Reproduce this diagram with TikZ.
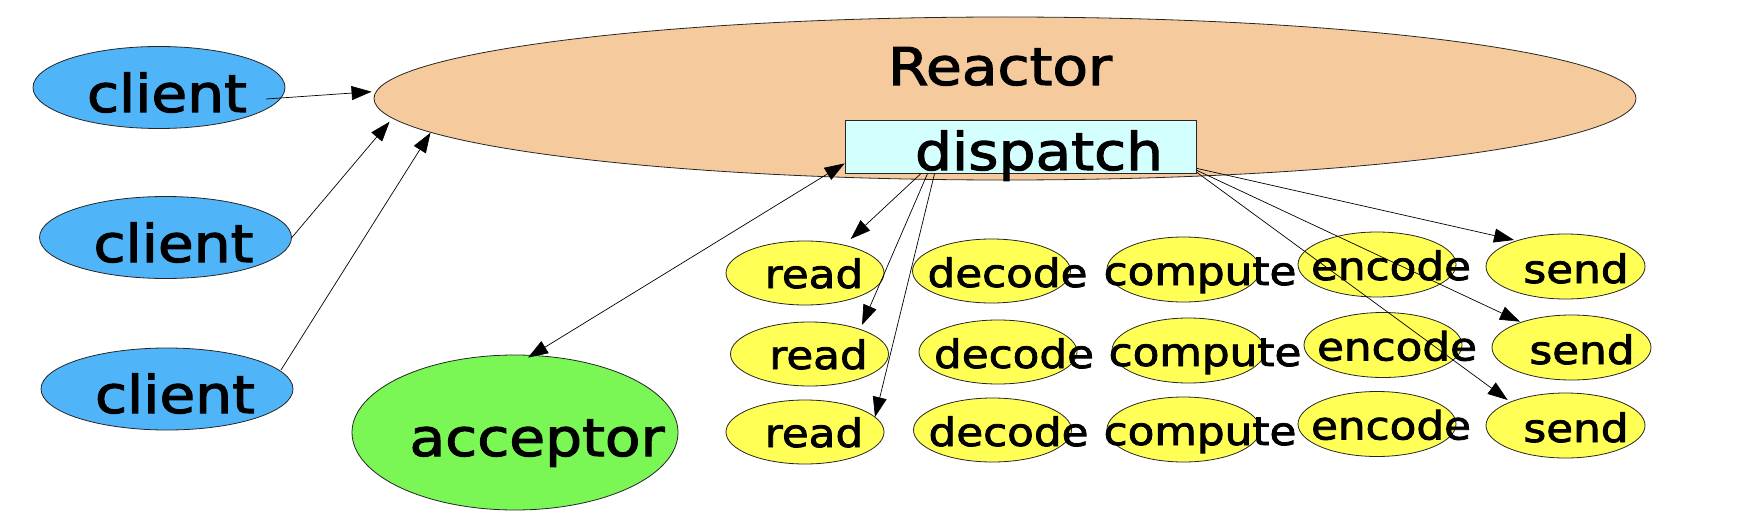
\documentclass[tikz,border=0pt]{standalone}
\usepackage{fontspec}
\setmainfont{DejaVu Sans}[FakeBold=2]
\usepackage{graphicx}
\usetikzlibrary{shapes.geometric,arrows.meta,calc}
\definecolor{clientblue}{HTML}{50B4F9}
\definecolor{reactorc}{HTML}{F5CB9D}
\definecolor{dispatchc}{HTML}{D4FFFF}
\definecolor{accgreen}{HTML}{7AF755}
\definecolor{yel}{HTML}{FFFF55}
\newcommand{\wtx}[1]{\scalebox{1.12}[1]{#1}}
\tikzset{
  ell/.style={ellipse, draw=black!85, line width=0.8pt, inner sep=0pt},
  clientell/.style={ell, fill=clientblue, minimum width=252pt, minimum height=82pt},
  smallell/.style={ell, fill=yel, minimum width=158pt, minimum height=64pt},
  bigtxt/.style={anchor=base, inner sep=0pt, font=\fontsize{52}{60}\selectfont},
  smalltxt/.style={anchor=base, inner sep=0pt, font=\fontsize{39}{45}\selectfont},
  conn/.style={draw=black, line width=0.7pt, -{Triangle[length=20pt,width=14pt]}},
  conn2/.style={draw=black, line width=0.7pt, {Triangle[length=20pt,width=14pt]}-{Triangle[length=20pt,width=14pt]}},
}
\begin{document}
\begin{tikzpicture}[x=1pt,y=-1pt]
\useasboundingbox (0,0) rectangle (1764,524);
% shapes
\node[clientell] (client1) at (159,87.5) {};
\node[clientell] (client2) at (165.5,237.5) {};
\node[clientell] (client3) at (167,389) {};
\node[ell, fill=reactorc, minimum width=1262pt, minimum height=163pt] (reactor) at (1005,98.5) {};
\node[draw=black!85, line width=0.8pt, fill=dispatchc, inner sep=0pt, minimum width=351pt, minimum height=53pt] (dispatch) at (1020.5,146.5) {};
\node[ell, fill=accgreen, minimum width=326pt, minimum height=155pt] (acceptor) at (515,432.5) {};
\node[smallell] (read1) at (805,273) {};
\node[smallell] (read2) at (809.5,354) {};
\node[smallell] (read3) at (805,432) {};
\node[smallell] (decode1) at (991.5,271) {};
\node[smallell] (decode2) at (998,352) {};
\node[smallell] (decode3) at (992.5,430) {};
\node[smallell, minimum width=153pt, minimum height=65pt] (compute1) at (1183.5,269.5) {};
\node[smallell, minimum width=153pt, minimum height=65pt] (compute2) at (1188.5,350.5) {};
\node[smallell, minimum width=153pt, minimum height=65pt] (compute3) at (1183.5,429.5) {};
\node[smallell, minimum height=65pt] (encode1) at (1377,264.5) {};
\node[smallell, minimum height=65pt] (encode2) at (1383,345) {};
\node[smallell, minimum height=65pt] (encode3) at (1377,424) {};
\node[smallell, minimum width=159pt, minimum height=65pt] (send1) at (1565.5,266.5) {};
\node[smallell, minimum width=159pt, minimum height=65pt] (send2) at (1571.5,347.5) {};
\node[smallell, minimum width=159pt, minimum height=65pt] (send3) at (1565.5,425.5) {};
% texts
\node[bigtxt] (t-client1) at ($(client1)+(8,24.5)$) {\wtx{client}};
\node[bigtxt] (t-client2) at ($(client2)+(8,24.5)$) {\wtx{client}};
\node[bigtxt] (t-client3) at ($(client3)+(8,24)$) {\wtx{client}};
\node[bigtxt] (t-reactor) at (1000,85) {\wtx{Reactor}};
\node[bigtxt] (t-dispatch) at ($(dispatch)+(18.5,23.5)$) {\wtx{dispatch}};
\node[bigtxt] (t-acceptor) at ($(acceptor)+(22,23.5)$) {\wtx{acceptor}};
\foreach \n in {read1,read2,read3}{
  \node[smalltxt] (t-\n) at ($(\n)+(9,15)$) {\wtx{read}};}
\foreach \n in {decode1,decode2,decode3}{
  \node[smalltxt] (t-\n) at ($(\n)+(16,16)$) {\wtx{decode}};}
\foreach \n in {compute1,compute2,compute3}{
  \node[smalltxt] (t-\n) at ($(\n)+(16.5,15.5)$) {\wtx{compute}};}
\foreach \n in {encode1,encode2,encode3}{
  \node[smalltxt] (t-\n) at ($(\n)+(14,15.5)$) {\wtx{encode}};}
\foreach \n in {send1,send2,send3}{
  \node[smalltxt] (t-\n) at ($(\n)+(10.5,16.5)$) {\wtx{send}};}
% connectors
\draw[conn] ($(client1.center)+(107,11.5)$) -- ($(reactor.west)+(-2,-6.8)$);
\draw[conn] (client2.east) -- ($(reactor.center)+(-615.4,23.2)$);
\draw[conn] ($(client3.center)+(114,-19)$) -- ($(reactor.center)+(-574.5,34.2)$);
\draw[conn2] ($(acceptor.north)+(13,3)$) -- ($(dispatch.south west)+(0,-10)$);
\draw[conn] ($(dispatch.south west)+(76.5,0)$) -- ($(read1)+(45.7,-34)$);
\draw[conn] ($(dispatch.south west)+(83,0)$) -- ($(read2)+(52.5,-29)$);
\draw[conn] ($(dispatch.south west)+(90,0)$) -- ($(read3)+(70,-15)$);
\draw[conn] ($(dispatch.south east)+(0.5,-5)$) -- ($(send1)+(-51.5,-26.5)$);
\draw[conn] ($(dispatch.south east)+(0.5,-3)$) -- ($(send2)+(-51.5,-25.8)$);
\draw[conn] ($(dispatch.south east)+(0.5,-1)$) -- ($(send3)+(-57.8,-25.5)$);
\end{tikzpicture}
\end{document}
